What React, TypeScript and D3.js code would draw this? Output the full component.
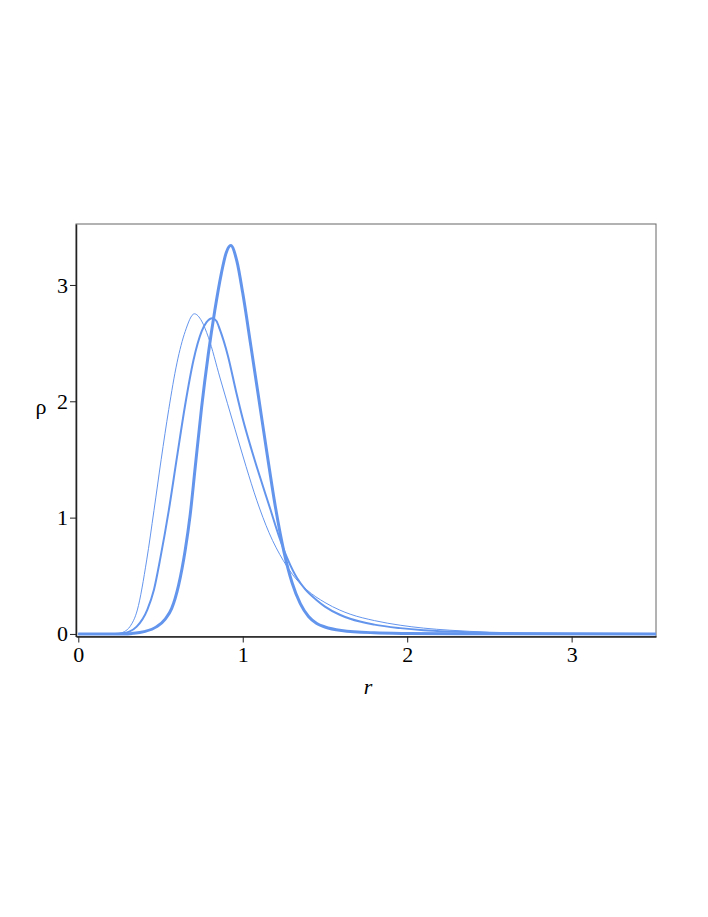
import React, { useEffect, useRef } from 'react';
import * as d3 from 'd3';

// radial density curves: [r, rho]
const thinCurve: [number, number][] = [
  [0, 0], [0.2, 0], [0.25, 0.005], [0.28, 0.02], [0.314, 0.063], [0.359, 0.206],
  [0.416, 0.636], [0.46, 1.06], [0.504, 1.5], [0.55, 1.93], [0.6, 2.33],
  [0.65, 2.6], [0.706, 2.752], [0.75, 2.69], [0.791, 2.55], [0.862, 2.2],
  [0.953, 1.76], [1.02, 1.44], [1.085, 1.15], [1.16, 0.87], [1.247, 0.63],
  [1.32, 0.48], [1.389, 0.38], [1.5, 0.27], [1.59, 0.205], [1.653, 0.17],
  [1.8, 0.115], [1.957, 0.075], [2.1, 0.05], [2.26, 0.032], [2.5, 0.015],
  [2.8, 0.006], [3.1, 0.002], [3.52, 0],
];

const mediumCurve: [number, number][] = [
  [0, 0], [0.22, 0], [0.27, 0.005], [0.31, 0.02], [0.355, 0.063], [0.42, 0.21],
  [0.46, 0.38], [0.5, 0.66], [0.55, 1.06], [0.6, 1.52], [0.65, 1.97],
  [0.7, 2.35], [0.75, 2.6], [0.78, 2.68], [0.815, 2.714], [0.84, 2.69],
  [0.86, 2.62], [0.91, 2.39], [0.96, 2.08], [1.0, 1.85], [1.05, 1.6],
  [1.1, 1.37], [1.166, 1.08], [1.22, 0.84], [1.277, 0.63], [1.33, 0.48],
  [1.379, 0.385], [1.45, 0.29], [1.5, 0.235], [1.59, 0.165], [1.653, 0.13],
  [1.8, 0.08], [1.957, 0.05], [2.1, 0.032], [2.26, 0.02], [2.5, 0.009],
  [2.8, 0.003], [3.52, 0],
];

const thickCurve: [number, number][] = [
  [0, 0], [0.28, 0], [0.33, 0.005], [0.4, 0.02], [0.477, 0.063], [0.53, 0.13],
  [0.568, 0.22], [0.61, 0.42], [0.65, 0.72], [0.68, 1.02], [0.71, 1.42],
  [0.75, 1.95], [0.79, 2.4], [0.83, 2.78], [0.87, 3.1], [0.9, 3.28],
  [0.927, 3.339], [0.965, 3.2], [1.0, 2.93], [1.05, 2.47], [1.1, 2.0],
  [1.15, 1.53], [1.2, 1.08], [1.25, 0.71], [1.3, 0.44], [1.35, 0.26],
  [1.4, 0.15], [1.45, 0.09], [1.5, 0.06], [1.6, 0.03], [1.8, 0.01],
  [2.0, 0.004], [2.3, 0.001], [3.52, 0],
];

const xTicks = [0, 1, 2, 3];
const yTicks = [0, 1, 2, 3];

const series = [
  { data: thinCurve, width: 1 },
  { data: mediumCurve, width: 2 },
  { data: thickCurve, width: 3 },
];

const serif = '"Liberation Serif", "Times New Roman", Times, serif';

const App = () => {
  const ref = useRef<SVGSVGElement>(null);

  useEffect(() => {
    const svg = d3.select(ref.current);
    svg.selectAll('*').remove();

    const left = 76, right = 656, top = 224, bottom = 636.5;

    const x = d3.scaleLinear().domain([-0.014, 3.513]).range([left, right]);
    const y = d3.scaleLinear().domain([-0.022, 3.524]).range([bottom, top]);

    const clip = svg.append('defs').append('clipPath').attr('id', 'plotclip');
    clip.append('rect')
      .attr('x', left).attr('y', top)
      .attr('width', right - left).attr('height', bottom - top);

    // frame
    svg.append('rect')
      .attr('x', left).attr('y', top)
      .attr('width', right - left).attr('height', bottom - top)
      .attr('fill', 'none')
      .attr('stroke', '#666')
      .attr('stroke-width', 1);

    const line = d3.line<[number, number]>()
      .x(d => x(d[0]))
      .y(d => y(d[1]))
      .curve(d3.curveMonotoneX);

    const g = svg.append('g').attr('clip-path', 'url(#plotclip)');
    series.forEach(s => {
      g.append('path')
        .datum(s.data)
        .attr('fill', 'none')
        .attr('stroke', '#6495ED')
        .attr('stroke-width', s.width)
        .attr('stroke-linejoin', 'round')
        .attr('d', line);
    });

    // x axis
    const xAxis = svg.append('g')
      .attr('transform', `translate(0,${bottom})`)
      .call(d3.axisBottom(x).tickValues(xTicks).tickSize(6).tickSizeOuter(0)
        .tickPadding(4).tickFormat(d3.format('d')));
    xAxis.select('.domain').attr('stroke', '#222').attr('stroke-width', 1.5);
    xAxis.selectAll('.tick line').attr('stroke', '#222');
    xAxis.selectAll('text')
      .style('font-family', serif)
      .style('font-size', '22px')
      .attr('fill', '#000');

    // y axis
    const yAxis = svg.append('g')
      .attr('transform', `translate(${left},0)`)
      .call(d3.axisLeft(y).tickValues(yTicks).tickSize(6).tickSizeOuter(0)
        .tickPadding(2).tickFormat(d3.format('d')));
    yAxis.select('.domain').attr('stroke', '#222').attr('stroke-width', 1.5);
    yAxis.selectAll('.tick line').attr('stroke', '#222');
    yAxis.selectAll('text')
      .style('font-family', serif)
      .style('font-size', '22px')
      .attr('fill', '#000');

    // axis titles
    svg.append('text')
      .attr('x', (left + right) / 2 + 2)
      .attr('y', 694)
      .attr('text-anchor', 'middle')
      .style('font-family', serif)
      .style('font-style', 'italic')
      .style('font-size', '22px')
      .text('r');

    svg.append('text')
      .attr('x', 41)
      .attr('y', 414)
      .attr('text-anchor', 'middle')
      .style('font-family', serif)
      .style('font-size', '22px')
      .text('ρ');
  }, []);

  return (
    <svg
      ref={ref}
      width={708}
      height={917}
      style={{ position: 'absolute', left: 0, top: 0, background: '#fff' }}
    />
  );
};

export default App;
